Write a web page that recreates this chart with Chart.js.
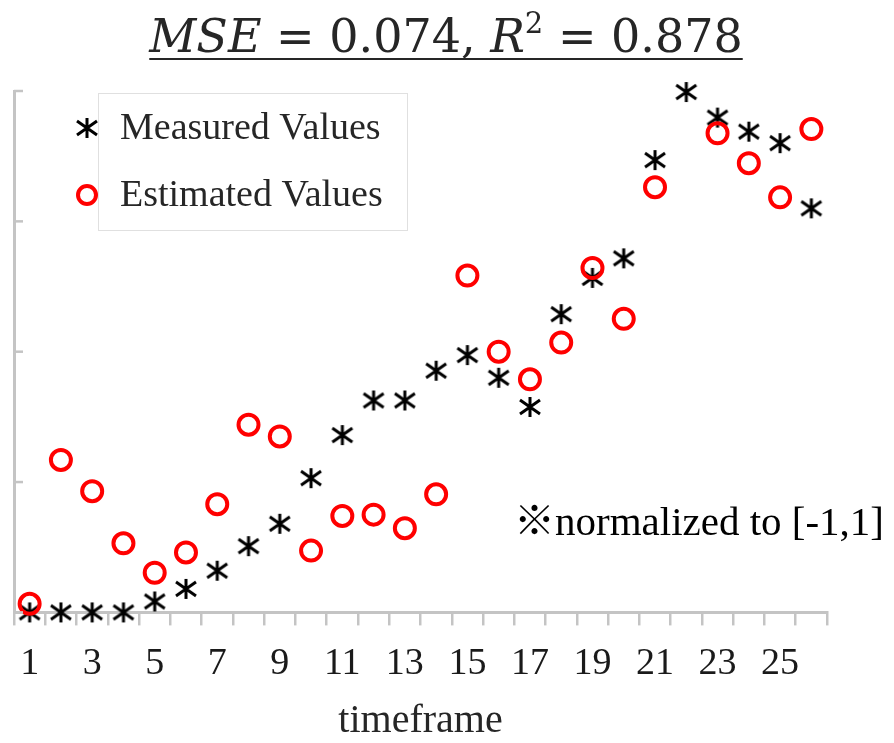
<!DOCTYPE html>
<html>
<head>
<meta charset="utf-8">
<script src="https://cdn.jsdelivr.net/npm/chart.js@4.4.1/dist/chart.umd.min.js"></script>
<style>
html, body { margin: 0; padding: 0; background: #fff; }
</style>
</head>
<body>
<canvas id="fitChart" width="894" height="743"></canvas>
<script>
// values are normalized to [-1, 1]
const timeframes = ['1','2','3','4','5','6','7','8','9','10','11','12','13','14','15','16','17','18','19','20','21','22','23','24','25','26'];
const measuredValues = [-1.0, -1.0, -1.0, -1.0, -0.958, -0.91, -0.84, -0.746, -0.66, -0.485, -0.32, -0.187, -0.187,
    -0.073, -0.013, -0.10, -0.212, 0.144, 0.283, 0.358, 0.735, 0.996, 0.898, 0.844, 0.80, 0.55];
const estimatedValues = [-0.967, -0.415, -0.535, -0.735, -0.848, -0.77, -0.585, -0.28, -0.325, -0.763, -0.63, -0.625, -0.677,
    -0.547, 0.292, 0.0, -0.106, 0.035, 0.321, 0.126, 0.631, null, 0.838, 0.723, 0.592, 0.854];
const yTicks = [-1, -0.5, 0, 0.5, 1];

const axisGray = '#c4c4c4';
const serif = '"Liberation Serif", "Times New Roman", serif';

function makeAsterisk() {
    const c = document.createElement('canvas');
    c.width = 24;
    c.height = 24;
    const g = c.getContext('2d');
    g.strokeStyle = '#000';
    g.lineWidth = 3;
    g.beginPath();
    g.moveTo(12, 2); g.lineTo(12, 22);
    g.moveTo(2, 5); g.lineTo(22, 19);
    g.moveTo(2, 19); g.lineTo(22, 5);
    g.stroke();
    return c;
}
const asterisk = makeAsterisk();

function drawTitle(ctx) {
    const big = 46;
    const parts = [
        { t: 'MSE', f: `italic ${big}px "DejaVu Serif"` },
        { t: ' = 0.074, ', f: `${big}px "DejaVu Serif"` },
        { t: 'R', f: `italic ${big}px "DejaVu Serif"` },
        { t: '2', f: `29px "DejaVu Serif"`, sup: true },
        { t: ' = 0.878', f: `${big}px "DejaVu Serif"` }
    ];
    let total = 0;
    parts.forEach(p => { ctx.font = p.f; p.w = ctx.measureText(p.t).width; total += p.w; });
    let x = 446 - total / 2;
    const startX = x;
    const base = 52;
    ctx.fillStyle = '#262626';
    ctx.textAlign = 'left';
    ctx.textBaseline = 'alphabetic';
    parts.forEach(p => {
        ctx.font = p.f;
        ctx.fillText(p.t, x, p.sup ? base - 19 : base);
        x += p.w;
    });
    ctx.strokeStyle = '#262626';
    ctx.lineWidth = 2;
    ctx.beginPath();
    ctx.moveTo(startX, 59);
    ctx.lineTo(x, 59);
    ctx.stroke();
}

const extrasPlugin = {
    id: 'extras',
    afterDraw(chart) {
        const ctx = chart.ctx;
        const yScale = chart.scales.y;
        const left = chart.chartArea.left;
        ctx.save();

        // inner tick marks of the y axis
        ctx.strokeStyle = axisGray;
        ctx.lineWidth = 2.5;
        yScale.ticks.forEach(t => {
            const py = yScale.getPixelForValue(t.value);
            ctx.beginPath();
            ctx.moveTo(left, py);
            ctx.lineTo(left + 9, py);
            ctx.stroke();
        });

        drawTitle(ctx);

        // legend
        ctx.fillStyle = '#fff';
        ctx.fillRect(98, 93, 309, 137);
        ctx.strokeStyle = '#e0e0e0';
        ctx.lineWidth = 1;
        ctx.strokeRect(98.5, 93.5, 309, 137);
        ctx.drawImage(asterisk, 87 - 12, 128 - 12);
        ctx.strokeStyle = '#ff0000';
        ctx.lineWidth = 4;
        ctx.beginPath();
        ctx.arc(87, 195, 9, 0, Math.PI * 2);
        ctx.stroke();
        ctx.fillStyle = '#262626';
        ctx.font = `38px ${serif}`;
        ctx.textBaseline = 'middle';
        ctx.textAlign = 'left';
        ctx.fillText(chart.data.datasets[0].label, 120, 129);
        ctx.fillText(chart.data.datasets[1].label, 120, 196);

        // note
        ctx.fillStyle = '#000';
        ctx.font = `41px ${serif}, "Noto Sans CJK JP"`;
        ctx.fillText('※normalized to [-1,1]', 514, 524);
        ctx.restore();
    }
};

new Chart(document.getElementById('fitChart'), {
    type: 'line',
    data: {
        labels: timeframes,
        datasets: [{
            label: 'Measured Values',
            data: measuredValues,
            showLine: false,
            pointStyle: asterisk,
            pointRadius: 10,
            order: 1,
            clip: false
        }, {
            label: 'Estimated Values',
            data: estimatedValues,
            showLine: false,
            pointStyle: 'circle',
            pointRadius: 10,
            pointBorderWidth: 4,
            pointBorderColor: '#ff0000',
            pointBackgroundColor: 'rgba(0,0,0,0)',
            order: 0,
            clip: false
        }]
    },
    options: {
        responsive: false,
        animation: false,
        layout: { padding: { left: 5, right: 67, top: 91, bottom: 4 } },
        plugins: {
            legend: { display: false },
            tooltip: { enabled: false }
        },
        scales: {
            x: {
                offset: true,
                grid: {
                    offset: true,
                    drawOnChartArea: false,
                    color: axisGray,
                    lineWidth: 2.5,
                    tickLength: 13
                },
                border: { color: axisGray, width: 3 },
                ticks: {
                    autoSkip: false,
                    maxRotation: 0,
                    padding: 16,
                    color: '#1a1a1a',
                    font: { family: serif, size: 38 },
                    callback: function(value, index) {
                        return index % 2 === 0 ? timeframes[index] : '';
                    }
                },
                title: {
                    display: true,
                    text: 'timeframe',
                    color: '#262626',
                    font: { family: serif, size: 40, lineHeight: 0.9 },
                    padding: { top: 0, bottom: 0 }
                }
            },
            y: {
                min: -1,
                max: 1,
                afterBuildTicks: axis => { axis.ticks = yTicks.map(v => ({ value: v })); },
                grid: { display: false },
                border: { color: axisGray, width: 3 },
                ticks: { display: false }
            }
        }
    },
    plugins: [extrasPlugin]
});
</script>
</body>
</html>
